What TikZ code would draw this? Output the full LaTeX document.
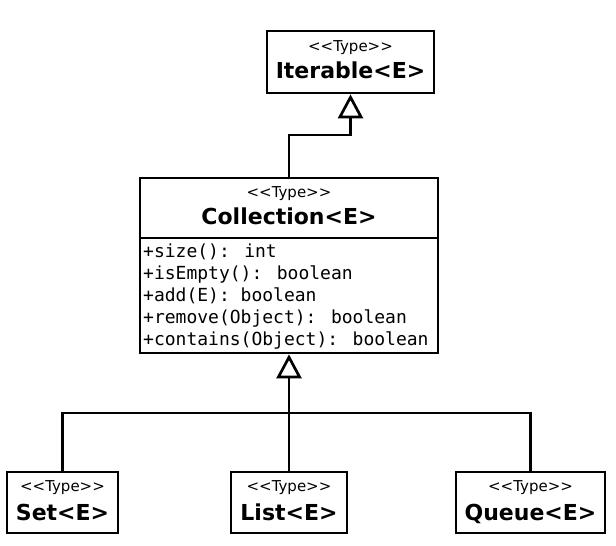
\documentclass[tikz,border=0pt]{standalone}
\usepackage{fontspec}
\newfontfamily\dvs{DejaVu Sans}
\newfontfamily\dvsm{DejaVu Sans Mono}
\usetikzlibrary{arrows.meta,calc}
\tikzset{
  box/.style={draw, line width=2.7pt, inner sep=0pt, fill=white},
  stereo/.style={anchor=base, inner sep=0pt, font=\dvs\fontsize{15}{18}\selectfont},
  cname/.style={anchor=base, inner sep=0pt, font=\dvs\bfseries\fontsize{22}{26}\selectfont},
  meth/.style={anchor=base west, inner sep=0pt, font=\dvsm\fontsize{18}{22}\selectfont},
  conn/.style={line width=2.7pt},
  inh/.style={conn, -{Triangle[open, length=24pt, width=25pt]}},
}
\newcommand{\stereotxt}{<\kern0pt<Type>\kern0pt>}
\begin{document}
\begin{tikzpicture}[x=1pt,y=-1pt]
\useasboundingbox[fill=white] (0,0) rectangle (616,546);

% boxes
\node[box, minimum width=167pt, minimum height=62pt] (iter) at (350.5,62) {};
\node[box, minimum width=298pt, minimum height=60pt] (colh) at (289,208) {};
\node[box, minimum width=298pt, minimum height=115pt] (colm) at (289,295.5) {};
\node[box, minimum width=111pt, minimum height=61pt] (set) at (62.5,502.5) {};
\node[box, minimum width=116pt, minimum height=61pt] (list) at (289,502.5) {};
\node[box, minimum width=149pt, minimum height=61pt] (queue) at (530.5,502.5) {};

% connectors
\coordinate (j1) at (350.5,135);
\coordinate (bus) at (289,413);
\draw[inh] (colh.north) |- (j1) -- (iter.south);
\draw[conn] (set.north) |- (bus) -| (queue.north);
\draw[inh] (list.north) -- (colm.south);

% texts
\node[stereo] (iters) at ($(iter.north)+(0,22)$) {\stereotxt};
\node[cname]  (itern) at ($(iter.north)+(0,49)$) {Iterable<E>};
\node[stereo] (colls) at ($(colh.north)+(0,21)$) {\stereotxt};
\node[cname]  (colln) at ($(colh.north)+(0,48)$) {Collection<E>};
\node[meth] (m1) at (143,257) {+size(): int};
\node[meth] (m2) at (143,279) {+isEmpty(): boolean};
\node[meth] (m3) at (143,301) {+add(E): boolean};
\node[meth] (m4) at (143,323) {+remove(Object): boolean};
\node[meth] (m5) at (143,345) {+contains(Object): boolean};
\node[stereo] (sets) at ($(set.north)+(0,21)$) {\stereotxt};
\node[cname]  (setn) at ($(set.north)+(0,50)$) {Set<E>};
\node[stereo] (lists) at ($(list.north)+(0,21)$) {\stereotxt};
\node[cname]  (listn) at ($(list.north)+(0,50)$) {List<E>};
\node[stereo] (queues) at ($(queue.north)+(0,21)$) {\stereotxt};
\node[cname]  (queuen) at ($(queue.north)+(0,50)$) {Queue<E>};
\end{tikzpicture}
\end{document}
